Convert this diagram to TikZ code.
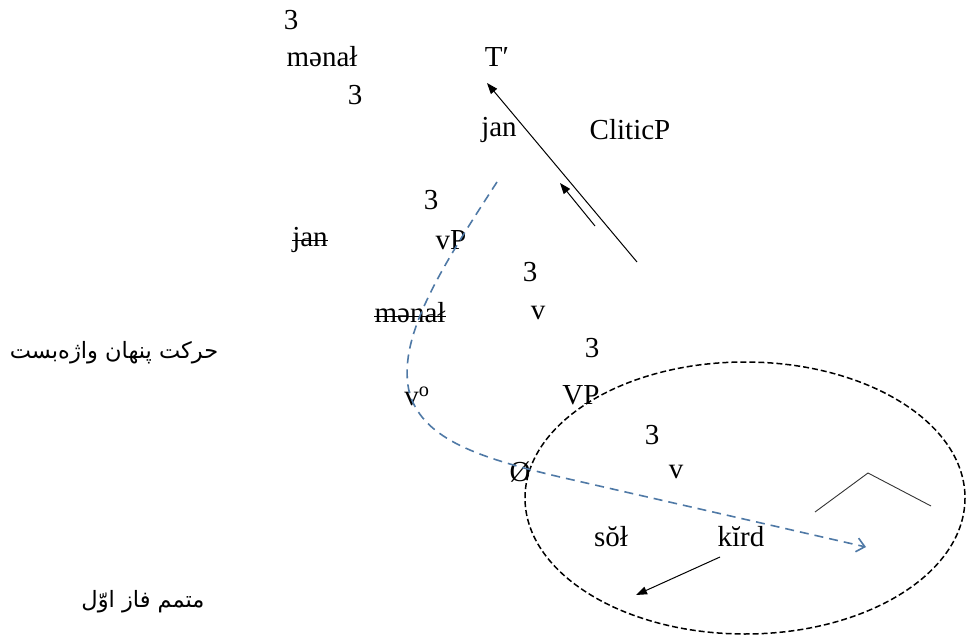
\documentclass[tikz,border=0pt]{standalone}
\usepackage{fontspec}
\setmainfont{Liberation Serif}
\newfontfamily\arabicfont[Script=Arabic]{DejaVu Sans}
\TeXXeTstate=1
\usetikzlibrary{arrows.meta}
\definecolor{bluedash}{RGB}{79,121,166}
\begin{document}
\begin{tikzpicture}[x=1pt,y=-1pt,
  lbl/.style={inner sep=0pt, font=\fontsize{29}{33}\selectfont},
  fa/.style={inner sep=0pt, font=\arabicfont\fontsize{22.5}{27}\selectfont},
  strikeline/.style={draw=black, line width=1pt},
  solidarrow/.style={draw=black, line width=1pt, -{Triangle[length=11pt,width=8pt]}},
  roof/.style={draw=black!80, line width=0.9pt},
  phase/.style={draw=black, line width=1.5pt, dash pattern=on 6pt off 3pt},
  covert/.style={draw=bluedash, line width=1.6pt, dash pattern=on 9pt off 6pt, -{Straight Barb[length=8pt,width=14pt]}}]
\useasboundingbox (0,0) rectangle (969,636);
% phase ellipse
\draw[phase] (745,498) ellipse [x radius=220, y radius=136];
% tree labels
\node[lbl] (t1) at (291,20) {3};
\node[lbl] (menal1) at (322,57) {mənał};
\node[lbl] (tbar) at (497,57) {T′};
\node[lbl] (t2) at (355,95) {3};
\node[lbl] (jan1) at (499,130) {jan};
\node[lbl] (clitic) at (630,130) {CliticP};
\node[lbl] (t3) at (431,200) {3};
\node[lbl] (jan2) at (310,240) {jan};
\node[lbl] (vP) at (451,240) {vP};
\node[lbl] (t4) at (530,272) {3};
\node[lbl] (menal2) at (410,313) {mənał};
\node[lbl] (vbar) at (538,313) {v};
\node[lbl] (t5) at (592,348) {3};
\node[lbl] (vo) at (417,396) {v\textsuperscript{o}};
\node[lbl] (VP) at (581,395) {VP};
\node[lbl] (t6) at (652,435) {3};
\node[lbl] (empty) at (520,472) {Ø};
\node[lbl] (v2) at (676,472) {v};
\node[lbl] (sol) at (611,537) {sŏł};
\node[lbl] (kird) at (741,537) {kĭrd};
% strike-through of deleted copies
\draw[strikeline] ([yshift=6.5pt]jan2.base west) -- ([yshift=6.5pt]jan2.base east);
\draw[strikeline] ([yshift=6.5pt]menal2.base west) -- ([yshift=6.5pt]menal2.base east);
% Persian labels
\node[fa] (covlbl) at (114,353) {\beginR حرکت پنهان واژه‌بست\endR};
\node[fa] (phlbl) at (143,602) {\beginR متمم فاز اوّل\endR};
% solid arrows
\coordinate (mvTail) at (637,262);
\coordinate (mvHead) at (487,83);
\draw[solidarrow] (mvTail) -- (mvHead);
\coordinate (smTail) at (595,226);
\coordinate (smHead) at (560,183);
\draw[solidarrow] (smTail) -- (smHead);
\coordinate (kTail) at (720,557);
\coordinate (kHead) at (636,595);
\draw[solidarrow] (kTail) -- (kHead);
% roof
\coordinate (r1) at (815,512);
\coordinate (r2) at (868,473);
\coordinate (r3) at (931,506);
\draw[roof] (r1) -- (r2) -- (r3);
% covert clitic movement
\coordinate (cvStart) at (497,182);
\coordinate (cvMid) at (410,395);
\coordinate (cvBend) at (560,477);
\coordinate (cvEnd) at (866,547);
\draw[covert] (cvStart) .. controls (440,270) and (395,340) .. (cvMid)
  .. controls (425,440) and (480,458) .. (cvBend) -- (cvEnd);
\end{tikzpicture}
\end{document}
